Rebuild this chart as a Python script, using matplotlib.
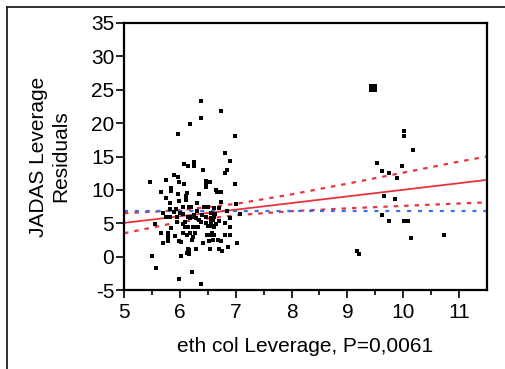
import numpy as np
import matplotlib.pyplot as plt
from matplotlib.lines import Line2D

plt.rcParams['font.family'] = ['Liberation Sans', 'DejaVu Sans']
plt.rcParams['axes.unicode_minus'] = False

# main cluster
left_x = [6.38, 6.74, 6.38, 6.18, 5.96, 6.99, 6.80,
          6.89, 6.08, 6.15, 6.25, 6.25, 6.42, 6.84, 6.80, 5.89, 5.96, 5.76, 5.47, 5.98,
          6.08, 6.46, 6.46, 6.54, 6.99, 5.85, 5.85, 6.47, 5.66, 5.96, 6.13, 6.11, 6.34,
          6.64, 6.67, 6.74, 5.76, 6.11, 5.83, 5.99, 6.31, 6.74, 7.01, 5.94, 6.06, 6.17,
          6.20, 6.43, 6.51, 6.62, 6.70, 5.83, 6.63, 7.08, 6.05, 5.75, 5.83, 5.95, 6.15,
          6.19, 6.22, 6.29, 6.47, 6.55, 6.62, 6.60,
          5.56, 5.95, 6.10, 6.15, 6.24, 6.28, 6.32, 6.37, 6.46, 6.55, 6.51, 6.58, 6.62,
          6.89, 5.85, 5.66, 5.78, 5.78, 5.78, 5.78, 5.92, 6.06, 6.13, 6.19, 6.28, 6.24,
          6.49, 6.55, 6.62, 6.58, 6.80, 6.89, 5.98, 6.02, 6.22, 6.42, 6.52, 6.60, 6.68,
          6.73, 5.69, 7.03, 6.86, 6.15, 6.16, 6.29, 6.54, 6.70, 6.76, 6.13, 6.17, 5.50,
          6.02, 5.57, 6.22, 5.99, 6.38,
          6.00, 6.30, 6.40, 5.90, 6.85, 6.70, 6.35, 6.90, 6.10, 6.55, 6.25, 5.70, 6.80,
          6.65, 6.05]
left_y = [23.36, 21.77, 20.72, 19.9, 18.3, 18.07, 15.48,
          14.33, 13.88, 13.58, 14.13, 13.58, 13.02, 13.02, 12.53, 12.23, 11.93, 11.48, 11.22, 11.22,
          10.93, 11.37, 10.98, 11.22, 10.93, 10.24, 9.83, 10.43, 9.68, 9.43, 9.49, 9.13, 9.38,
          9.94, 9.64, 9.64, 8.83, 8.48, 8.03, 8.28, 8.03, 8.13, 7.83, 7.13, 7.39, 7.39,
          7.39, 7.48, 7.48, 7.24, 7.24, 7.13, 6.43, 6.43, 6.39, 5.94, 5.94, 5.94, 5.9,
          5.8, 5.95, 5.8, 5.99, 5.74, 5.94, 5.44,
          4.89, 5.19, 4.39, 4.39, 4.39, 4.39, 4.39, 5.23, 5.08, 5.23, 4.59, 4.59, 4.39,
          4.39, 4.29, 3.54, 3.58, 3.19, 2.79, 2.29, 3.04, 3.58, 3.19, 3.58, 3.49, 2.89,
          3.19, 3.19, 3.19, 3.58, 3.29, 3.29, 2.29, 2.19, 2.49, 2.0, 2.39, 2.49, 2.49,
          2.29, 2.0, 2.0, 1.49, 1.19, 0.99, 1.19, 1.19, 1.19, 0.89, 0.59, 0.39, 0.14,
          0.14, -1.75, -2.3, -3.35, -4.1,
          6.6, 6.8, 6.2, 6.7, 6.9, 5.4, 5.5, 5.8, 5.2, 6.5, 6.3, 6.6, 5.0,
          4.9, 4.9]

# right cluster
right_x = [10.02, 10.02, 10.18, 9.53, 9.98, 9.62, 9.75, 9.89, 9.66, 9.85, 9.62, 9.75,
           10.01, 10.08, 10.14, 10.73, 9.17, 9.20]
right_y = [18.82, 18.07, 15.97, 14.07, 13.58, 12.83, 12.53, 11.73, 9.13, 8.59, 6.19, 5.38,
           5.38, 5.38, 2.75, 3.29, 0.89, 0.39]

# highlighted point
big_x = [9.46]
big_y = [25.3]

# fit line and confidence curves
fit_x = [5, 11.5]
fit_y = [5.05, 11.5]
ci_x = [5, 6, 7, 8, 9, 10, 11, 11.5]
ci_upper = [6.5, 6.95, 7.9, 9.33, 10.93, 12.58, 14.24, 15.0]
ci_lower = [3.5, 5.2, 6.2, 6.81, 7.23, 7.6, 7.96, 8.13]
mean_y = 6.8

x_ticks = [5, 6, 7, 8, 9, 10, 11]
y_ticks = [-5, 0, 5, 10, 15, 20, 25, 30, 35]

red = '#e8333f'
blue = '#3a6ee8'
fs = 15

fig = plt.figure(figsize=(5.05, 3.69), dpi=100)
ax = fig.add_axes([124 / 505, 79 / 369, 363 / 505, 267 / 369])

ax.plot(ci_x, ci_upper, color=red, lw=1.6, dashes=(2.0, 2.7))
ax.plot(ci_x, ci_lower, color=red, lw=1.6, dashes=(2.0, 2.7))
ax.axhline(mean_y, color=blue, lw=1.6, dashes=(1.8, 3.1))
ax.plot(fit_x, fit_y, color=red, lw=1.3)

ax.plot(left_x, left_y, 's', color='black', ms=2.4, mew=0)
ax.plot(right_x, right_y, 's', color='black', ms=2.4, mew=0)
ax.plot(big_x, big_y, 's', color='black', ms=6, mew=0)

ax.set_xlim(5, 11.5)
ax.set_ylim(-5, 35)
ax.set_xticks(x_ticks)
ax.set_xticks(np.arange(5.5, 11.5, 1), minor=True)
ax.set_yticks(y_ticks)
ax.tick_params(axis='both', which='major', direction='out', length=6, width=1.2,
               labelsize=fs, colors='black')
ax.tick_params(axis='x', which='minor', direction='out', length=3.5, width=1.2)
ax.tick_params(axis='y', pad=1)
ax.tick_params(axis='x', pad=3)
for s in ax.spines.values():
    s.set_linewidth(1.6)

fig.text(305.5 / 505, 1 - 347 / 369, 'eth col Leverage, P=0,0061', fontsize=fs,
         ha='center', va='center')
fig.text(50 / 505, 1 - 156.5 / 369, 'JADAS Leverage\nResiduals', fontsize=fs,
         ha='center', va='center', rotation=90, multialignment='center')

# outer frame
fig.add_artist(Line2D([7 / 505, 7 / 505], [0, 1 - 7 / 369], color='#222222', lw=1.3,
                      transform=fig.transFigure))
fig.add_artist(Line2D([7 / 505, 1], [1 - 7 / 369, 1 - 7 / 369], color='#222222', lw=1.3,
                      transform=fig.transFigure))

fig.savefig('out.png', dpi=100)
